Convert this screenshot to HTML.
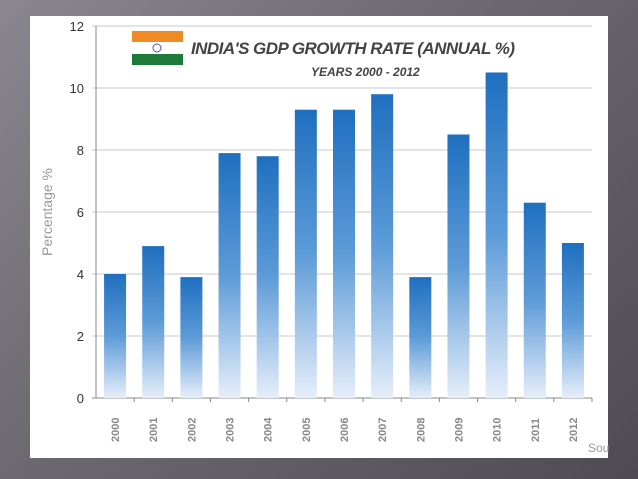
<!DOCTYPE html>
<html><head><meta charset="utf-8"><style>
body{margin:0;width:638px;height:479px;overflow:hidden;background:linear-gradient(135deg,#8a8790 0%,#6e6b72 40%,#4e4c52 100%);font-family:"Liberation Sans",sans-serif}
#panel{position:absolute;left:30px;top:16px;width:578px;height:442px;background:#fff}
</style></head><body>
<div id="panel"></div>
<svg id="chart" width="638" height="479" style="position:absolute;left:0;top:0">
<defs><linearGradient id="bg" x1="0" y1="0" x2="0" y2="1"><stop offset="0" stop-color="#1f6fbf"/><stop offset="0.5" stop-color="#5d9bd8"/><stop offset="1" stop-color="#e6eefa"/></linearGradient></defs>
</svg>
<script>
const years=["2000","2001","2002","2003","2004","2005","2006","2007","2008","2009","2010","2011","2012"];
const growth=[4.0,4.9,3.9,7.9,7.8,9.3,9.3,9.8,3.9,8.5,10.5,6.3,5.0];
const yTicks=[0,2,4,6,8,10,12];
const svg=document.getElementById('chart');const NS='http://www.w3.org/2000/svg';
const x0=96,x1=592,y0=398,y1=26;
const yS=v=>y0-(v/12)*(y0-y1);
const step=(x1-x0)/years.length;
const xS=i=>x0+step*(i+0.5);
function mk(t,a,txt){const e=document.createElementNS(NS,t);for(const k in a)e.setAttribute(k,a[k]);if(txt!=null)e.textContent=txt;svg.appendChild(e);return e;}
yTicks.forEach(v=>{
 const g=mk('line',{x1:x0-4,x2:x1,y1:yS(v),y2:yS(v),stroke:v?'#c8c8c8':'#888','stroke-width':1});
 
 const t=mk('text',{x:x0-12,y:yS(v)+5,'text-anchor':'end','font-size':13,fill:'#333'},v);
 
});
mk('line',{x1:x0,x2:x0,y1:y1,y2:y0,stroke:'#888'});
growth.forEach((v,i)=>{
 const r=mk('rect',{x:xS(i)-11,y:yS(v),width:22,height:y0-yS(v),fill:'url(#bg)'});
 
 mk('line',{x1:x0+step*(i+1),x2:x0+step*(i+1),y1:y0,y2:y0+4,stroke:'#888'});
 const t=mk('text',{x:0,y:0,transform:`translate(${xS(i)+4},${y0+44}) rotate(-90)`,'font-size':11,'font-weight':'bold',fill:'#888'},years[i]);
 
});
const yt=mk('text',{transform:'translate(52,212) rotate(-90)','text-anchor':'middle','font-size':14,fill:'#999'},'Percentage %');

mk('rect',{x:132,y:31,width:51,height:11,fill:'#f08a24'});
mk('rect',{x:132,y:54,width:51,height:11,fill:'#1e7a3a'});
mk('circle',{cx:157,cy:48,r:4,fill:'none',stroke:'#4a5a9a'});
const tt=mk('text',{x:191,y:54,'font-size':17,'font-weight':'bold','font-style':'italic',fill:'#444',textLength:324},"INDIA'S GDP GROWTH RATE (ANNUAL %)");

const st=mk('text',{x:311,y:76,'font-size':12,'font-weight':'bold','font-style':'italic',fill:'#444'},'YEARS 2000 - 2012');

const so=mk('text',{x:588,y:452,'font-size':12,fill:'#999'},'Sou');

</script>
</body></html>
